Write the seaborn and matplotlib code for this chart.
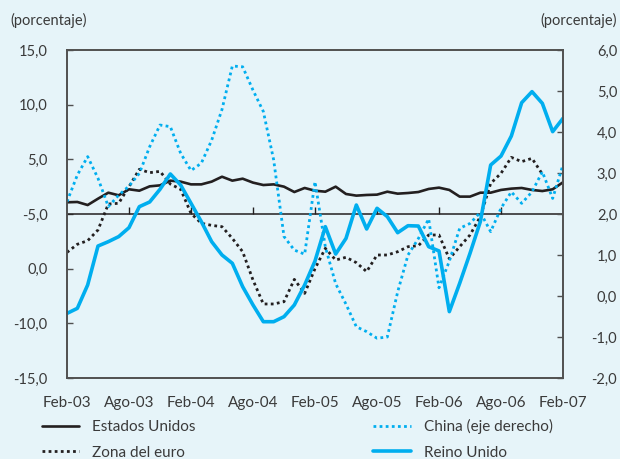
import numpy as np
import pandas as pd
import seaborn as sns
import matplotlib.pyplot as plt

# meses desde Feb-03 hasta Feb-07
meses = np.arange(49)
ticks_x = np.arange(0, 49, 6)
etiquetas_x = ['Feb-03', 'Ago-03', 'Feb-04', 'Ago-04', 'Feb-05',
               'Ago-05', 'Feb-06', 'Ago-06', 'Feb-07']

# eje izquierdo
estados_unidos = [1.07, 1.10, 0.82, 1.40, 1.95, 1.71, 2.26, 2.13, 2.53, 2.62, 3.05, 2.96, 2.71,
                  2.71, 2.96, 3.41, 3.05, 3.23, 2.87, 2.65, 2.71, 2.50, 2.01, 2.38, 2.13,
                  2.04, 2.50, 1.83, 1.68, 1.74, 1.77, 2.04, 1.86, 1.92, 2.01, 2.29, 2.41,
                  2.20, 1.59, 1.59, 1.95, 1.95, 2.20, 2.32, 2.38, 2.20, 2.10, 2.26, 2.90]
zona_euro = [-3.51, -2.77, -2.44, -1.46, 0.91, 0.98, 2.50, 4.09, 3.78, 3.90, 2.74, 2.26, 0.06,
             -0.85, -1.04, -1.16, -2.23, -3.45, -6.04, -8.23, -8.23, -8.02, -5.98, -7.26, -5.00,
             -3.14, -4.21, -3.96, -4.45, -5.27, -3.75, -3.75, -3.45, -2.99, -2.90, -1.92, -1.92,
             -4.10, -2.99, -1.92, -0.24, 2.80, 3.72, 5.18, 4.79, 5.09, 3.65, np.nan, np.nan]
reino_unido = [-9.09, -8.63, -6.49, -2.93, -2.53, -2.07, -1.25, 0.67, 1.10, 2.26, 3.66, 2.65, 0.98,
               -0.70, -2.53, -3.75, -4.51, -6.65, -8.32, -9.85, -9.85, -9.39, -8.32, -6.49, -4.30,
               -1.16, -3.66, -2.23, 0.82, -1.37, 0.52, -0.24, -1.71, -1.07, -1.10, -2.99, -3.38,
               -8.93, -6.34, -3.60, -0.70, 4.48, 5.30, 7.13, 10.18, 11.19, 10.12, 7.53, 8.75]
# eje derecho
china = [2.30, 2.95, 3.40, 2.87, 2.18, 2.46, 2.68, 2.99, 3.64, 4.17, 4.13, 3.48, 3.06,
         3.24, 3.80, 4.55, 5.61, 5.59, 5.02, 4.50, 3.32, 1.45, 1.12, 1.02, 2.79,
         1.20, 0.30, -0.20, -0.75, -0.87, -1.03, -1.00, 0.10, 1.00, 1.40, 1.88, 0.20,
         0.85, 1.65, 1.77, 2.04, 1.57, 2.14, 2.54, 2.26, 2.54, 3.03, 2.38, 3.20]

ticks_izq = [15, 10, 5, 0, -5, -10, -15]
etiquetas_izq = ['15,0', '10,0', '5,0', '-5,0', '0,0', '-10,0', '-15,0']
ticks_der = [6, 5, 4, 3, 2, 1, 0, -1, -2]
etiquetas_der = ['6,0', '5,0', '4,0', '3,0', '2,0', '1,0', '0,0', '-1,0', '-2,0']

FONDO = '#e6f4f9'
NEGRO = '#231f20'
CIAN = '#00aeef'
TEXTO = '#3a3a3a'
MARCO = '#505050'

sns.set_style('ticks')
plt.rcParams['font.family'] = ['Lato', 'DejaVu Sans']
plt.rcParams['font.size'] = 10.5

df = pd.DataFrame({'mes': meses, 'eu': estados_unidos, 'ze': zona_euro,
                   'ru': reino_unido, 'cn': china})

fig = plt.figure(figsize=(6.2, 4.59), dpi=100, facecolor=FONDO)
ax = fig.add_axes([67/620, 1 - 378/459, 496/620, 328/459])
ax.set_facecolor(FONDO)
ax2 = ax.twinx()

sns.lineplot(data=df, x='mes', y='eu', ax=ax, color=NEGRO, lw=1.9, label='Estados Unidos')
sns.lineplot(data=df, x='mes', y='ze', ax=ax, color=NEGRO, lw=2.0, ls=(0, (1, 1.2)),
             label='Zona del euro')
sns.lineplot(data=df, x='mes', y='ru', ax=ax, color=CIAN, lw=2.6, label='Reino Unido')
sns.lineplot(data=df, x='mes', y='cn', ax=ax2, color=CIAN, lw=2.0, ls=(0, (1, 1.2)),
             label='China (eje derecho)')

h1, l1 = ax.get_legend_handles_labels()
h2, l2 = ax2.get_legend_handles_labels()
for a in (ax, ax2):
    if a.get_legend() is not None:
        a.get_legend().remove()

# linea de cero con marcas hacia arriba
ax.axhline(0, color=NEGRO, lw=1.1, zorder=1)
sec = ax.secondary_xaxis(0.5)
sec.set_xticks(ticks_x[1:-1])
sec.tick_params(axis='x', direction='out', length=5, width=1, color=NEGRO,
                labeltop=False, labelbottom=False)
for s in sec.spines.values():
    s.set_visible(False)

ax.set_xlim(0, 48)
ax.set_ylim(-15, 15)
ax2.set_ylim(-2, 6)
ax.set_xticks(ticks_x)
ax.set_xticklabels(etiquetas_x, fontsize=11)
ax.set_yticks(ticks_izq)
ax.set_yticklabels(etiquetas_izq)
ax2.set_yticks(ticks_der)
ax2.set_yticklabels(etiquetas_der)
ax.set_xlabel('')
ax.set_ylabel('')
ax2.set_ylabel('')

ax.tick_params(axis='x', length=0, pad=13, colors=TEXTO)
ax.tick_params(axis='y', direction='in', length=4, width=1, color=MARCO, pad=14, labelcolor=TEXTO)
ax2.tick_params(axis='y', direction='in', length=4, width=1, color=MARCO, pad=39, labelcolor=TEXTO)
for lbl in ax2.get_yticklabels():
    lbl.set_horizontalalignment('right')

for a in (ax, ax2):
    for s in a.spines.values():
        s.set_visible(True)
        s.set_color(MARCO)
        s.set_linewidth(1.2)

fig.text(10/620, 1 - 20/459, '(porcentaje)', ha='left', va='center', color=TEXTO, fontsize=10.5)
fig.text(617/620, 1 - 20/459, '(porcentaje)', ha='right', va='center', color=TEXTO, fontsize=10.5)

handles = [h1[0], h1[1], h2[0], h1[2]]
labels = [l1[0], l1[1], l2[0], l1[2]]
fig.legend(handles, labels, ncol=2, loc='upper left', bbox_to_anchor=(42/620, 1 - 419/459),
           frameon=False, handlelength=2.45, handletextpad=0.85, columnspacing=11.6,
           labelspacing=0.75, borderpad=0, borderaxespad=0, fontsize=11, labelcolor=TEXTO)

fig.savefig('out.png', dpi=100, facecolor=FONDO)
